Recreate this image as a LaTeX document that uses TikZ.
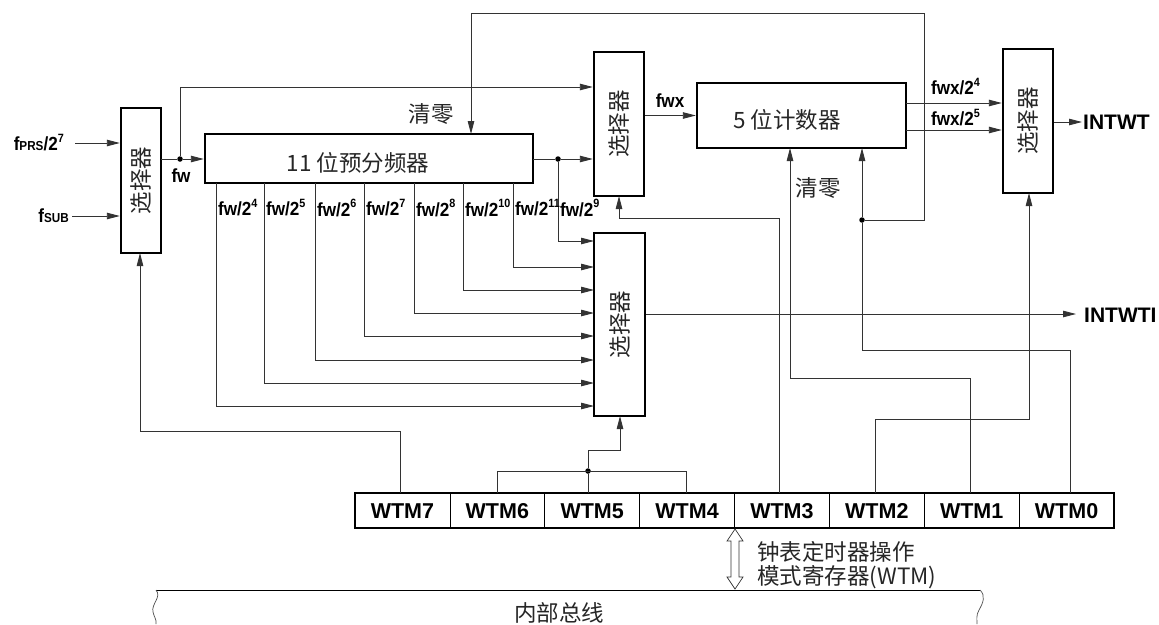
\documentclass[tikz,border=0pt]{standalone}
\usepackage{fontspec}
\setmainfont{Liberation Sans}
\newfontfamily\labf[FakeStretch=0.9]{Liberation Sans}
\newfontfamily\cjk{Noto Sans CJK SC}
\usetikzlibrary{arrows.meta}
\newcommand\sps[1]{\raisebox{0.8ex}{\fontsize{12}{12}\selectfont #1}}
\newcommand\sbs[1]{{\fontsize{13}{13}\selectfont #1}}
\begin{document}
\begin{tikzpicture}[x=1pt,y=-1pt,
  box/.style={draw, line width=2.4pt, inner sep=0pt},
  ln/.style={line width=0.9pt, draw=black!80},
  arr/.style={ln, -{Triangle[length=13pt,width=6.5pt]}},
  lab/.style={font=\labf\bfseries\fontsize{19}{20}\selectfont, inner sep=0pt},
  big/.style={font=\bfseries\fontsize{21}{22}\selectfont, inner sep=0pt},
  cj/.style={font=\cjk\fontsize{22.5}{23}\selectfont, inner sep=0pt, text=black!85},
  dot/.style={circle, fill=black, inner sep=0pt, minimum size=5.5pt}]
\useasboundingbox (0,0) rectangle (1159,624);

% ---- boxes
\node[box, minimum width=40, minimum height=145] (sel0) at (141,180.5) {};
\node[cj, rotate=90] at (sel0.center) {选择器};
\node[box, minimum width=328, minimum height=49] (pre) at (369,158.5) {};
\node[cj] (pretxt) at (358,163) {11 位预分频器};
\node[box, minimum width=50, minimum height=144] (sel1) at (619,124) {};
\node[cj, rotate=90] at (sel1.center) {选择器};
\node[box, minimum width=51, minimum height=183] (sel2) at (619.5,324.5) {};
\node[cj, rotate=90] at (sel2.center) {选择器};
\node[box, minimum width=209, minimum height=65] (cnt) at (801.5,115.5) {};
\node[cj] (cnttxt) at (787,120) {5 位计数器};
\node[box, minimum width=50, minimum height=144] (sel3) at (1028,121) {};
\node[cj, rotate=90] at (sel3.center) {选择器};

% ---- register
\node[box, minimum width=759, minimum height=35] (reg) at (734.5,510.5) {};
\foreach \i in {1,...,7} {
  \draw[line width=0.7pt] (355+\i*94.875,493) -- (355+\i*94.875,528);
}
\foreach \n [count=\i from 0] in {7,6,5,4,3,2,1,0} {
  \node[big, font=\bfseries\fontsize{21.5}{22}\selectfont] (w\n) at (355+47.44+\i*94.875,511) {WTM\n};
}
\foreach \n/\x in {7/400,6/497,5/588,4/686,3/779,2/875,1/970,0/1070} {
  \coordinate (r\n) at (\x,493);
}

% ---- inputs
\node[lab, anchor=east] (fprs) at (64,143) {f\sbs{PRS}/2\sps{7}};
\node[lab, anchor=east] (fsub) at (69,216) {f\sbs{SUB}};
\coordinate (fprsS) at (75,143);
\coordinate (fsubS) at (72,216);
\draw[arr] (fprsS) -- (sel0.west |- fprsS);
\draw[arr] (fsubS) -- (sel0.west |- fsubS);

% ---- fw
\coordinate (fw0) at (161,159);
\node[dot] (dfw) at (180,159) {};
\node[lab] (fwl) at (181,176) {fw};
\draw[ln] (fw0) -- (dfw);
\draw[arr] (dfw) -- (pre.west |- dfw);
\coordinate (fwup) at (180,87);
\draw[arr] (dfw) -- (fwup) -- (sel1.west |- fwup);

% ---- prescaler output
\coordinate (po) at (533,159);
\node[dot] (dpo) at (558,159) {};
\draw[ln] (po) -- (dpo);
\draw[arr] (dpo) -- (sel1.west |- dpo);
\coordinate (s9) at (594,241);
\draw[arr] (dpo) |- (s9);
\node[lab, anchor=west] (l9) at (560,208) {fw/2\sps{9}};

% ---- taps
\foreach \x/\y/\lbl [count=\i] in {216/406/4, 264/383/5, 315/360/6, 364/336/7, 414/313/8, 463/290/10, 513/267/11} {
  \coordinate (t\i) at (\x,183);
  \coordinate (s\i) at (594,\y);
  \draw[arr] (t\i) |- (s\i);
  \node[lab, anchor=west] (l\i) at (\x+2,208) {fw/2\sps{\lbl}};
}

% ---- fwx
\draw[arr] (sel1.east |- cnt.west) -- (cnt.west);
\node[lab] (fwx) at (670,101) {fwx};

% ---- counter outputs
\coordinate (c4) at (906,103);
\coordinate (c5) at (906,130);
\draw[arr] (c4) -- (sel3.west |- c4);
\draw[arr] (c5) -- (sel3.west |- c5);
\node[lab, anchor=west] (lc4) at (931,87) {fwx/2\sps{4}};
\node[lab, anchor=west] (lc5) at (931,118) {fwx/2\sps{5}};

% ---- outputs
\coordinate (o1) at (1082,122);
\draw[arr] (sel3.east |- o1) -- (o1);
\node[big, anchor=west] (intwt) at (1083,122) {INTWT};
\coordinate (o2) at (1076,314);
\draw[arr] (sel2.east |- o2) -- (o2);
\node[big, anchor=west] (intwti) at (1084,315) {INTWTI};

% ---- control lines
% WTM7 -> sel0
\draw[arr] (r7) -- (400,431) -- (140,431) -- (140,253);
% WTM6/5/4 -> sel2
\node[dot] (d54) at (588,471) {};
\draw[ln] (r6) -- (497,471) -- (686,471) -- (r4);
\draw[ln] (r5) -- (d54);
\draw[arr] (d54) -- (588,450) -- (620,450) -- (620,416);
% WTM3 -> sel1
\draw[arr] (r3) -- (779,218) -- (619,218) -- (619,196);
% WTM2 -> sel3
\draw[arr] (r2) -- (875,419) -- (1029,419) -- (1029,193);
% WTM1 -> counter clear
\draw[arr] (r1) -- (970,378) -- (790,378) -- (790,148);
% WTM0 -> clear
\node[dot] (dclr) at (862,220) {};
\draw[ln] (r0) -- (1070,350) -- (862,350) -- (dclr);
\draw[arr] (dclr) -- (862,148);
\draw[arr] (dclr) -- (924,220) -- (924,13) -- (471,13) -- (471,134);
\node[cj] (clr1) at (431,114) {清零};
\node[cj] (clr2) at (818,188) {清零};

% ---- bus interface
\draw[line width=0.7pt, draw=black!80] (735,529) -- (743,541) -- (739,541) -- (739,577) -- (743,577) -- (735,589) -- (727,577) -- (731,577) -- (731,541) -- (727,541) -- cycle;
\node[cj, anchor=west] (wtmA) at (757,552) {钟表定时器操作};
\node[cj, anchor=west] (wtmB) at (757,577) {模式寄存器(WTM)};

% ---- internal bus
\draw[line width=0.9pt] (156,590) -- (980,590);
\draw[line width=0.7pt, draw=black!70] (156,590) .. controls (162,597) and (151,604) .. (153,612) .. controls (154,617) and (157,620) .. (156,624);
\draw[line width=0.7pt, draw=black!70] (980,590) .. controls (986,596) and (983,603) .. (979,610) .. controls (976,615) and (977,620) .. (977,624);
\node[cj] (bus) at (559,613) {内部总线};
\end{tikzpicture}
\end{document}
